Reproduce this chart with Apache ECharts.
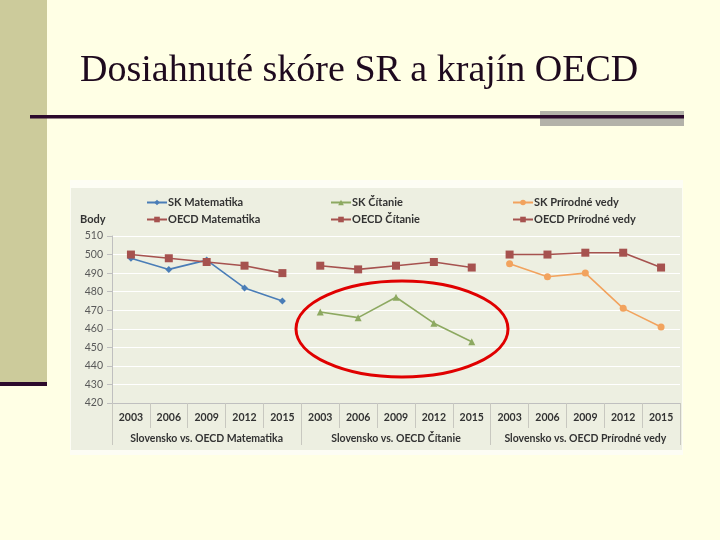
<!DOCTYPE html>
<html><head><meta charset="utf-8">
<script src="https://cdn.jsdelivr.net/npm/echarts@6/dist/echarts.min.js"></script>
<style>html,body{margin:0;padding:0;background:#FFFFE5;}#c{width:720px;height:540px;}</style>
</head><body><div id="c"></div>
<script>
const years = ['2003','2006','2009','2012','2015'];
const groups = ['Slovensko vs. OECD Matematika','Slovensko vs. OECD Čítanie','Slovensko vs. OECD Prírodné vedy'];
const skMath = [498, 492, 497, 482, 475];
const oecdMath = [500, 498, 496, 494, 490];
const skRead = [469, 466, 477, 463, 453];
const oecdRead = [494, 492, 494, 496, 493];
const skSci = [495, 488, 490, 471, 461];
const oecdSci = [500, 500, 501, 501, 493];
const yTicks = {min: 420, max: 510, step: 10};

const cats = groups.flatMap(() => years);
function pad(vals, g) {
  const out = new Array(cats.length).fill(null);
  vals.forEach((v, i) => { out[g * years.length + i] = v; });
  return out;
}
const OECD = '#A6524F';
const lf = 'Lato, "Open Sans", sans-serif';
function s(name, vals, g, color, symbol, size) {
  return {name, type:'line', data: pad(vals, g), xAxisIndex:0, yAxisIndex:0,
    connectNulls:false, symbol, symbolSize:size, animation:false,
    lineStyle:{color, width:1.6}, itemStyle:{color}};
}
const chart = echarts.init(document.getElementById('c'));
function leg(x, names) {
  return {left:x, top:192, orient:'vertical', itemGap:6, itemWidth:20, itemHeight:7,
    data:names, textStyle:{fontFamily:lf, fontWeight:'bold', fontSize:11, color:'#333333', padding:[0,0,0,-4]}};
}
chart.setOption({
  backgroundColor:'#FFFFE5',
  graphic:[
    {type:'rect', shape:{x:0,y:0,width:47,height:382}, style:{fill:'#CCCB9B'}},
    {type:'rect', shape:{x:0,y:382,width:47,height:4}, style:{fill:'#2C0A2C'}},
    {type:'rect', shape:{x:540,y:111,width:144,height:15}, style:{fill:'#B3B2A9'}},
    {type:'rect', shape:{x:30,y:115,width:654,height:3.5}, style:{fill:'#2C0A2C'}},
    {type:'text', x:80, y:52, style:{text:'Dosiahnuté skóre SR a krajín OECD', font:'38px "Liberation Serif", serif', fill:'#1E0A1E', verticalAlign:'top'}},
    {type:'rect', z:-10, shape:{x:70,y:180,width:613,height:275}, style:{fill:'#FDFDF4'}},
    {type:'rect', z:-9, shape:{x:71,y:188,width:611,height:262}, style:{fill:'#EDEFE1'}},
    {type:'text', x:80, y:219, style:{text:'Body', font:'bold 11px Lato, sans-serif', fill:'#333333', verticalAlign:'middle'}},
    {type:'ellipse', z:100, shape:{cx:402, cy:329, rx:106, ry:48}, style:{fill:'none', stroke:'#E00000', lineWidth:3}}
  ],
  legend:[
    leg(141, ['SK Matematika','OECD Matematika']),
    leg(325, ['SK Čítanie','OECD Čítanie']),
    leg(507, ['SK Prírodné vedy','OECD Prírodné vedy'])
  ],
  grid:{left:112, right:40, top:236, bottom:137},
  xAxis:[
    {type:'category', data:cats, boundaryGap:true, position:'bottom',
     axisLine:{show:true, lineStyle:{color:'#BFBFBF'}},
     axisTick:{show:true, interval:0, length:25, lineStyle:{color:'#C8C8C0'}},
     axisLabel:{interval:0, margin:9, fontFamily:lf, fontWeight:'bold', fontSize:10.5, color:'#333333'}},
    {type:'category', data:groups, boundaryGap:true, position:'bottom', offset:25,
     axisLine:{show:false},
     axisTick:{show:true, interval:0, length:17, lineStyle:{color:'#C8C8C0'}},
     axisLabel:{interval:0, margin:5, fontFamily:lf, fontWeight:'bold', fontSize:10.5, color:'#333333'}}
  ],
  yAxis:{type:'value', min:yTicks.min, max:yTicks.max, interval:yTicks.step,
    axisLine:{show:true, lineStyle:{color:'#BFBFBF'}},
    axisTick:{show:true, length:5, lineStyle:{color:'#BFBFBF'}},
    axisLabel:{margin:9, fontFamily:lf, fontSize:10.5, color:'#595959'},
    splitLine:{show:true, lineStyle:{color:'#FFFFFF', width:1}}},
  series:[
    s('SK Matematika', skMath, 0, '#4A7DB7', 'diamond', 7),
    s('OECD Matematika', oecdMath, 0, OECD, 'rect', 8),
    s('SK Čítanie', skRead, 1, '#8DA961', 'triangle', 7),
    s('OECD Čítanie', oecdRead, 1, OECD, 'rect', 8),
    s('SK Prírodné vedy', skSci, 2, '#F2A35E', 'circle', 7),
    s('OECD Prírodné vedy', oecdSci, 2, OECD, 'rect', 8)
  ]
});
</script></body></html>
